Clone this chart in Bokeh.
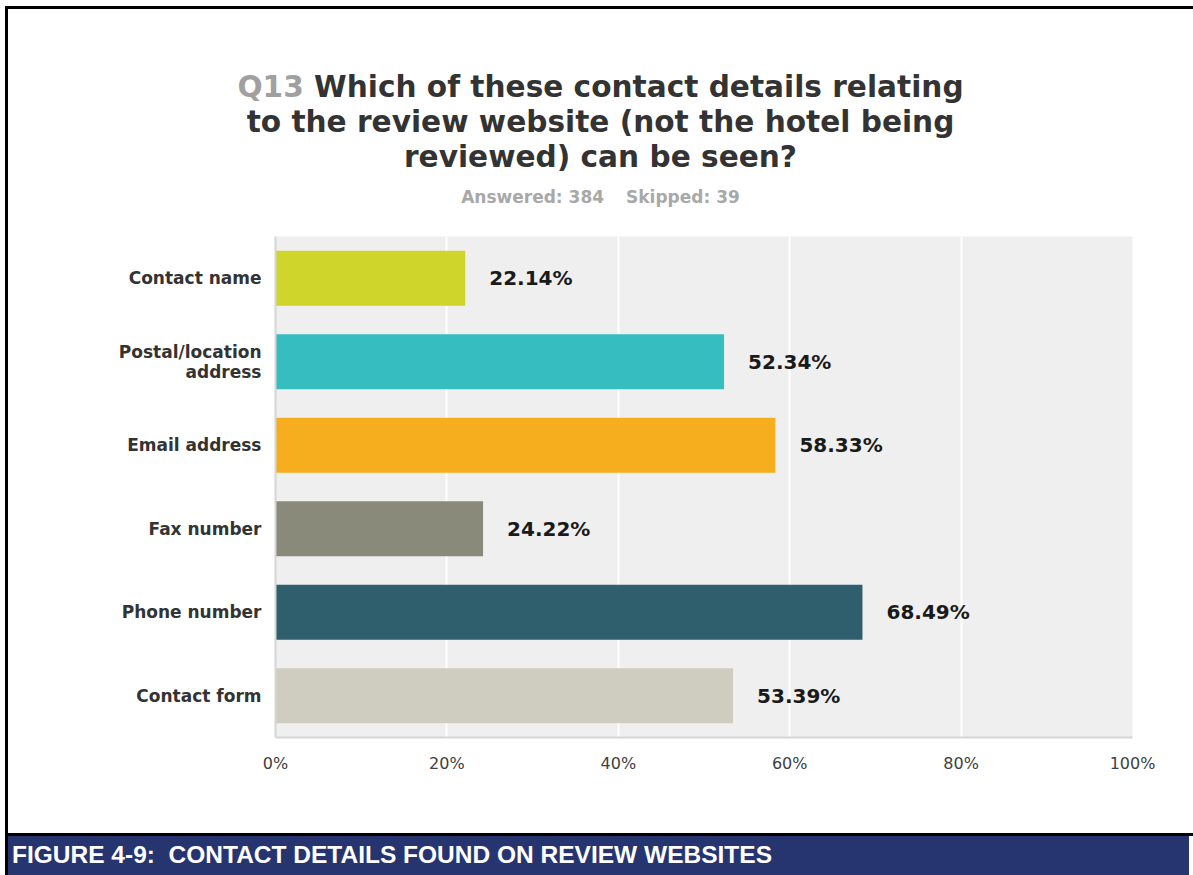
from bokeh.plotting import figure
from bokeh.layouts import row, column
from bokeh.models import Range1d, FixedTicker, ColumnDataSource, Div
from bokeh.core.properties import value
from bokeh.embed import file_html
from bokeh.resources import INLINE

# ---- data ----
categories = ["Contact name", "Postal/location\naddress", "Email address",
              "Fax number", "Phone number", "Contact form"]
percentages = [22.14, 52.34, 58.33, 24.22, 68.49, 53.39]
bar_colors = ["#cfd52a", "#35bdbf", "#f6ae1f", "#898a79", "#2f5f6c", "#cfcdbf"]
x_ticks = [0, 20, 40, 60, 80, 100]
x_tick_labels = ["0%", "20%", "40%", "60%", "80%", "100%"]
title_prefix = "Q13"
title_lines = ["Which of these contact details relating",
               "to the review website (not the hotel being",
               "reviewed) can be seen?"]
answered_text = "Answered: 384"
skipped_text = "Skipped: 39"
caption = "FIGURE 4-9:&nbsp; CONTACT DETAILS FOUND ON REVIEW WEBSITES"

# ---- layout sizes ----
W, H = 1193, 875
LEFT_W = 8
MAIN_W = W - LEFT_W
TITLE_H = 209
CAP_H = 42
FIG_H = H - TITLE_H - CAP_H
FRAME_L, FRAME_R, FRAME_T, FRAME_B = 275, 1132, 236, 737

# title block (with top border and the upper part of the left border)
title_html = (
    f'<div style="position:relative;width:{W}px;height:{TITLE_H}px;overflow:hidden;'
    "font-family:'DejaVu Sans';font-weight:bold;\">"
    f'<div style="position:absolute;left:5px;top:6px;width:{W-5}px;height:3px;background:#000;"></div>'
    f'<div style="position:absolute;left:5px;top:6px;width:3px;height:{TITLE_H-6}px;background:#000;"></div>'
    f'<div style="position:absolute;left:{LEFT_W}px;top:70px;width:{MAIN_W}px;text-align:center;'
    'font-size:29.6px;line-height:35px;color:#333333;white-space:nowrap;">'
    f'<span style="color:#a0a0a0;">{title_prefix}</span> {title_lines[0]}<br>'
    f'{title_lines[1]}<br>{title_lines[2]}</div>'
    f'<div style="position:absolute;left:{LEFT_W}px;top:187px;width:{MAIN_W}px;text-align:center;'
    'font-size:17px;line-height:20px;color:#a8a8a8;white-space:nowrap;">'
    f'<span>{answered_text}</span><span style="margin-left:22px;">{skipped_text}</span></div>'
    '</div>')
title_div = Div(width=W, height=TITLE_H, margin=0, text=title_html)

# left border beside the chart
strip_div = Div(width=3, height=FIG_H, margin=(0, 0, 0, 5), text="",
                styles={"background-color": "#000000"})

# chart
n = len(categories)
src = ColumnDataSource(dict(
    y=list(range(n)),
    pct=percentages,
    color=bar_colors,
    label=[f"{v:.2f}%" for v in percentages],
))

p = figure(width=MAIN_W, height=FIG_H, output_backend="svg", toolbar_location=None,
           title=None, margin=0,
           x_range=Range1d(0, 100), y_range=Range1d(n - 0.5, -0.5),
           min_border_left=FRAME_L - LEFT_W, min_border_right=W - FRAME_R,
           min_border_top=FRAME_T - TITLE_H, min_border_bottom=TITLE_H + FIG_H - FRAME_B)
p.background_fill_color = "#efefef"
p.border_fill_color = "white"
p.outline_line_color = None

p.hbar(y="y", left=0, right="pct", height=0.66, fill_color="color",
       line_color=None, source=src)
p.text(x="pct", y="y", text="label", x_offset=24, text_align="left",
       text_baseline="middle", text_font=value("DejaVu Sans"),
       text_font_style="bold", text_font_size="20px", text_color="#1a1a1a",
       source=src)

p.xgrid.ticker = FixedTicker(ticks=x_ticks)
p.xgrid.grid_line_color = "white"
p.xgrid.grid_line_width = 2
p.ygrid.grid_line_color = None

p.yaxis.ticker = FixedTicker(ticks=list(range(n)))
p.yaxis.major_label_overrides = {i: c for i, c in enumerate(categories)}
p.yaxis.major_label_text_font = "DejaVu Sans"
p.yaxis.major_label_text_font_style = "bold"
p.yaxis.major_label_text_font_size = "17px"
p.yaxis.major_label_text_line_height = 1.0
p.yaxis.major_label_text_color = "#333333"
p.yaxis.major_label_standoff = 14
p.yaxis.major_tick_out = 0
p.yaxis.major_tick_in = 0
p.yaxis.major_tick_line_color = None
p.yaxis.minor_tick_line_color = None
p.yaxis.axis_line_color = "#d6d6d6"
p.yaxis.axis_line_width = 2

p.xaxis.ticker = FixedTicker(ticks=x_ticks)
p.xaxis.major_label_overrides = {t: lab for t, lab in zip(x_ticks, x_tick_labels)}
p.xaxis.major_label_text_font = "DejaVu Sans"
p.xaxis.major_label_text_font_size = "16px"
p.xaxis.major_label_text_color = "#404040"
p.xaxis.major_label_standoff = 16
p.xaxis.major_tick_out = 0
p.xaxis.major_tick_in = 0
p.xaxis.major_tick_line_color = None
p.xaxis.minor_tick_line_color = None
p.xaxis.axis_line_color = "#d6d6d6"
p.xaxis.axis_line_width = 2

# caption band (with the lower part of the left border)
cap_html = (
    f'<div style="position:relative;width:{W}px;height:{CAP_H}px;overflow:hidden;">'
    f'<div style="position:absolute;left:5px;top:0;width:3px;height:{CAP_H}px;background:#000;"></div>'
    f'<div style="position:absolute;left:{LEFT_W}px;top:0;width:{MAIN_W}px;height:3px;background:#000;"></div>'
    f'<div style="position:absolute;left:{LEFT_W}px;top:3px;width:{MAIN_W-4}px;height:{CAP_H-3}px;'
    "background:#263570;color:#ffffff;font-family:'Liberation Sans';font-weight:bold;"
    'font-size:24.5px;line-height:37px;padding-left:4px;white-space:nowrap;">'
    f'{caption}</div></div>')
cap_div = Div(width=W, height=CAP_H, margin=0, text=cap_html)

layout = column(title_div, row(strip_div, p, spacing=0), cap_div, spacing=0)

open("out.html", "w").write(file_html(layout, INLINE))
